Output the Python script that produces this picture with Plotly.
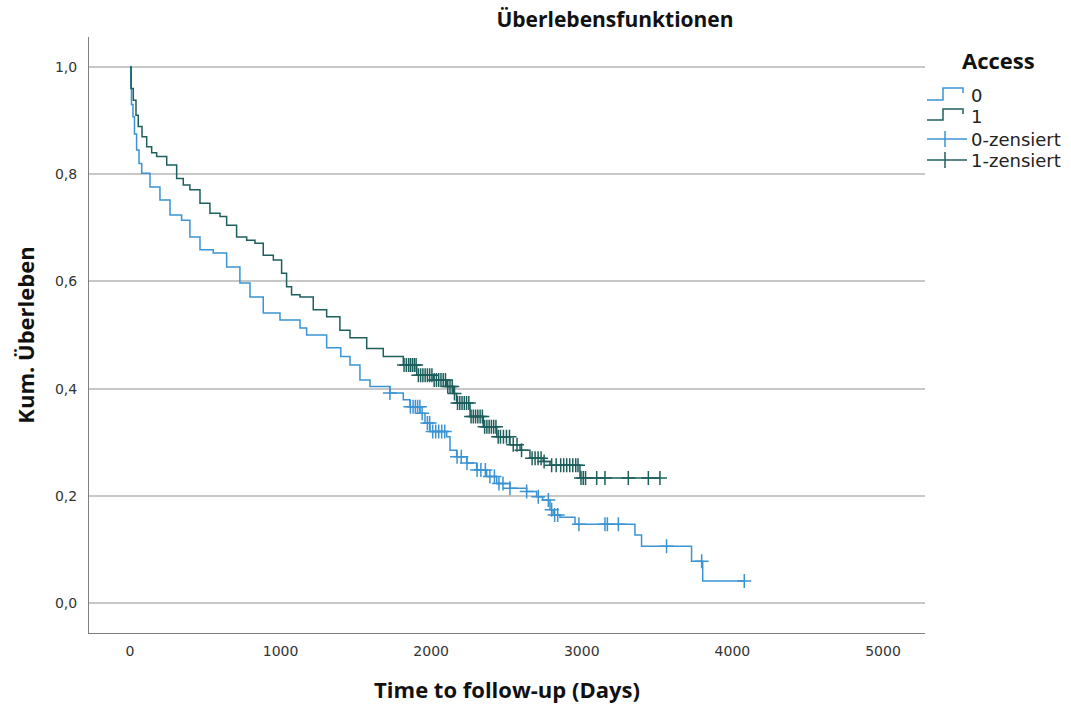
import numpy as np
import plotly.graph_objects as go

# ---------------- data ----------------
time_0 = [0, 5, 10, 20, 30, 44, 60, 78, 133, 199, 266, 343, 398, 465, 553, 642, 730, 797,
          885, 996, 1129, 1173, 1306, 1400, 1461, 1527, 1594, 1726, 1815, 1859, 1926, 1959,
          1992, 2103, 2125, 2169, 2236, 2302, 2368, 2435, 2523, 2634, 2700, 2740, 2789, 2810,
          2855, 2955, 3353, 3397, 3729, 3803]
surv_0 = [1.0, 0.96, 0.93, 0.907, 0.875, 0.845, 0.82, 0.802, 0.776, 0.752, 0.724, 0.714, 0.683,
          0.659, 0.653, 0.627, 0.597, 0.571, 0.541, 0.528, 0.513, 0.500, 0.476, 0.460, 0.444,
          0.416, 0.404, 0.392, 0.379, 0.366, 0.354, 0.336, 0.320, 0.310, 0.285, 0.273, 0.261,
          0.248, 0.236, 0.223, 0.214, 0.208, 0.198, 0.192, 0.174, 0.164, 0.160, 0.147, 0.127,
          0.106, 0.078, 0.041]
end_0 = 4079
cens_0 = [1726, 1862, 1880, 1895, 1910, 1925, 1940, 1975, 1990, 2010, 2030, 2050, 2070, 2090,
          2172, 2200, 2238, 2305, 2330, 2360, 2390, 2420, 2450, 2477, 2523, 2634, 2711, 2778,
          2800, 2820, 2840, 2981, 3154, 3170, 3243, 3563, 3796, 4079]

time_1 = [0, 8, 22, 40, 55, 80, 111, 144, 177, 244, 310, 354, 398, 465, 531, 598, 642, 708,
          775, 830, 885, 952, 1007, 1040, 1073, 1129, 1217, 1306, 1394, 1461, 1572, 1682, 1815,
          1904, 2014, 2103, 2147, 2169, 2258, 2346, 2435, 2523, 2590, 2656, 2744, 2789, 2988]
surv_1 = [1.0, 0.96, 0.938, 0.91, 0.889, 0.87, 0.851, 0.84, 0.833, 0.817, 0.792, 0.78, 0.771,
          0.746, 0.727, 0.721, 0.705, 0.683, 0.677, 0.671, 0.649, 0.640, 0.615, 0.59, 0.575,
          0.571, 0.547, 0.534, 0.509, 0.495, 0.475, 0.460, 0.444, 0.425, 0.416, 0.404, 0.391,
          0.373, 0.348, 0.329, 0.310, 0.295, 0.285, 0.270, 0.264, 0.257, 0.233]
end_1 = 3519
cens_1 = [1820, 1835, 1850, 1862, 1875, 1888, 1900, 1915, 1930, 1945, 1960, 1975, 1990, 2005,
          2020, 2035, 2050, 2065, 2080, 2095, 2110, 2125, 2140, 2155, 2175, 2190, 2205, 2220,
          2235, 2250, 2265, 2280, 2295, 2310, 2325, 2340, 2355, 2370, 2385, 2400, 2415, 2430,
          2445, 2460, 2480, 2500, 2520, 2545, 2570, 2600, 2670, 2690, 2710, 2730, 2750, 2800,
          2830, 2860, 2880, 2900, 2920, 2940, 2960, 2975, 2995, 3010, 3025, 3099, 3154, 3309,
          3442, 3519]

group_labels = ["0", "1"]
censor_labels = ["0-zensiert", "1-zensiert"]
x_ticks = [0, 1000, 2000, 3000, 4000, 5000]
y_ticks = [0.0, 0.2, 0.4, 0.6, 0.8, 1.0]

title_text = "Überlebensfunktionen"
x_title = "Time to follow-up (Days)"
y_title = "Kum. Überleben"
legend_title = "Access"

# ---------------- styling ----------------
colors = ["#3a94d4", "#1d5f5d"]
FONT = "DejaVu Sans"
BOLD = "Open Sans"
W, H = 1071, 704
ML, MR, MT, MB = 89, 146, 37, 71
PW, PH = W - ML - MR, H - MT - MB


def px(x):  # pixel -> paper x
    return (x - ML) / PW


def py(y):  # pixel -> paper y
    return (H - MB - y) / PH


fig = go.Figure()
groups = [(time_0, surv_0, end_0, cens_0), (time_1, surv_1, end_1, cens_1)]


def surv_at(t, s, c):
    idx = np.searchsorted(np.array(t), np.array(c), side="right") - 1
    return np.array(s)[idx]


for i, (t, s, e, c) in enumerate(groups):
    fig.add_trace(go.Scatter(
        x=list(t) + [e], y=list(s) + [s[-1]], mode="lines", line_shape="hv",
        line=dict(color=colors[i], width=1.5), name=group_labels[i],
        hoverinfo="skip", showlegend=False))

for i, (t, s, e, c) in enumerate(groups):
    fig.add_trace(go.Scatter(
        x=c, y=surv_at(t, s, c), mode="markers", name=censor_labels[i],
        marker=dict(symbol="cross-thin", size=10, line=dict(color=colors[i], width=1.5)),
        showlegend=False, hoverinfo="skip"))

# ---------------- legend (drawn as shapes + text) ----------------
shapes = []
annotations = []
step_rows = [(100, 88, 95), (120, 109, 116)]
for i, (low, high, ty) in enumerate(step_rows):
    path = (f"M {px(927)},{py(low)} L {px(943)},{py(low)} L {px(943)},{py(high)} "
            f"L {px(963)},{py(high)} L {px(963)},{py(high + 5)}")
    shapes.append(dict(type="path", xref="paper", yref="paper", path=path,
                       line=dict(color=colors[i], width=1.5)))
    annotations.append(dict(text=group_labels[i], xref="paper", yref="paper",
                            x=px(969), y=py(ty), xanchor="left", yanchor="middle",
                            showarrow=False, font=dict(family=FONT, size=18, color="#222222")))
cens_rows = [139, 160]
for i, ly in enumerate(cens_rows):
    shapes.append(dict(type="line", xref="paper", yref="paper", x0=px(927), x1=px(967),
                       y0=py(ly), y1=py(ly), line=dict(color=colors[i], width=1.5)))
    shapes.append(dict(type="line", xref="paper", yref="paper", x0=px(945), x1=px(945),
                       y0=py(ly - 8), y1=py(ly + 8), line=dict(color=colors[i], width=1.5)))
    annotations.append(dict(text=censor_labels[i], xref="paper", yref="paper",
                            x=px(969), y=py(ly), xanchor="left", yanchor="middle",
                            showarrow=False, font=dict(family=FONT, size=18, color="#222222")))
annotations.append(dict(text=f"<b>{legend_title}</b>", xref="paper", yref="paper",
                        x=px(998), y=py(60), xanchor="center", yanchor="middle",
                        showarrow=False, font=dict(family=BOLD, size=22, color="#111111")))

fig.update_layout(
    width=W, height=H,
    paper_bgcolor="white", plot_bgcolor="white",
    separators=",.",
    margin=dict(l=ML, r=MR, t=MT, b=MB),
    title=dict(text=f"<b>{title_text}</b>", x=615 / W, xanchor="center",
               y=1 - 20 / H, yanchor="middle",
               font=dict(family=BOLD, size=21, color="#111111")),
    showlegend=False,
    shapes=shapes, annotations=annotations,
)

fig.update_xaxes(
    range=[-272, 5279], tickvals=x_ticks, tickformat="d", automargin=False,
    showgrid=False, zeroline=False, showline=True, linecolor="#808080", linewidth=1,
    ticks="", ticklabelstandoff=5, tickfont=dict(family=FONT, size=14, color="#333333"),
    title=dict(text=f"<b>{x_title}</b>", font=dict(family=BOLD, size=22, color="#111111"),
               standoff=25))
fig.update_yaxes(
    range=[-0.056, 1.056], tickvals=y_ticks, tickformat=".1f", automargin=False,
    showgrid=True, gridcolor="#c8c8c8", gridwidth=1.5,
    zeroline=False, showline=True, linecolor="#808080", linewidth=1,
    ticks="", ticklabelstandoff=8, tickfont=dict(family=FONT, size=14, color="#333333"),
    title=dict(text=f"<b>{y_title}</b>", font=dict(family=BOLD, size=22, color="#111111"),
               standoff=14))

fig.write_html("out.html", config={"displayModeBar": False},
               post_script="document.body.style.margin='0';document.body.style.overflow='hidden';")
